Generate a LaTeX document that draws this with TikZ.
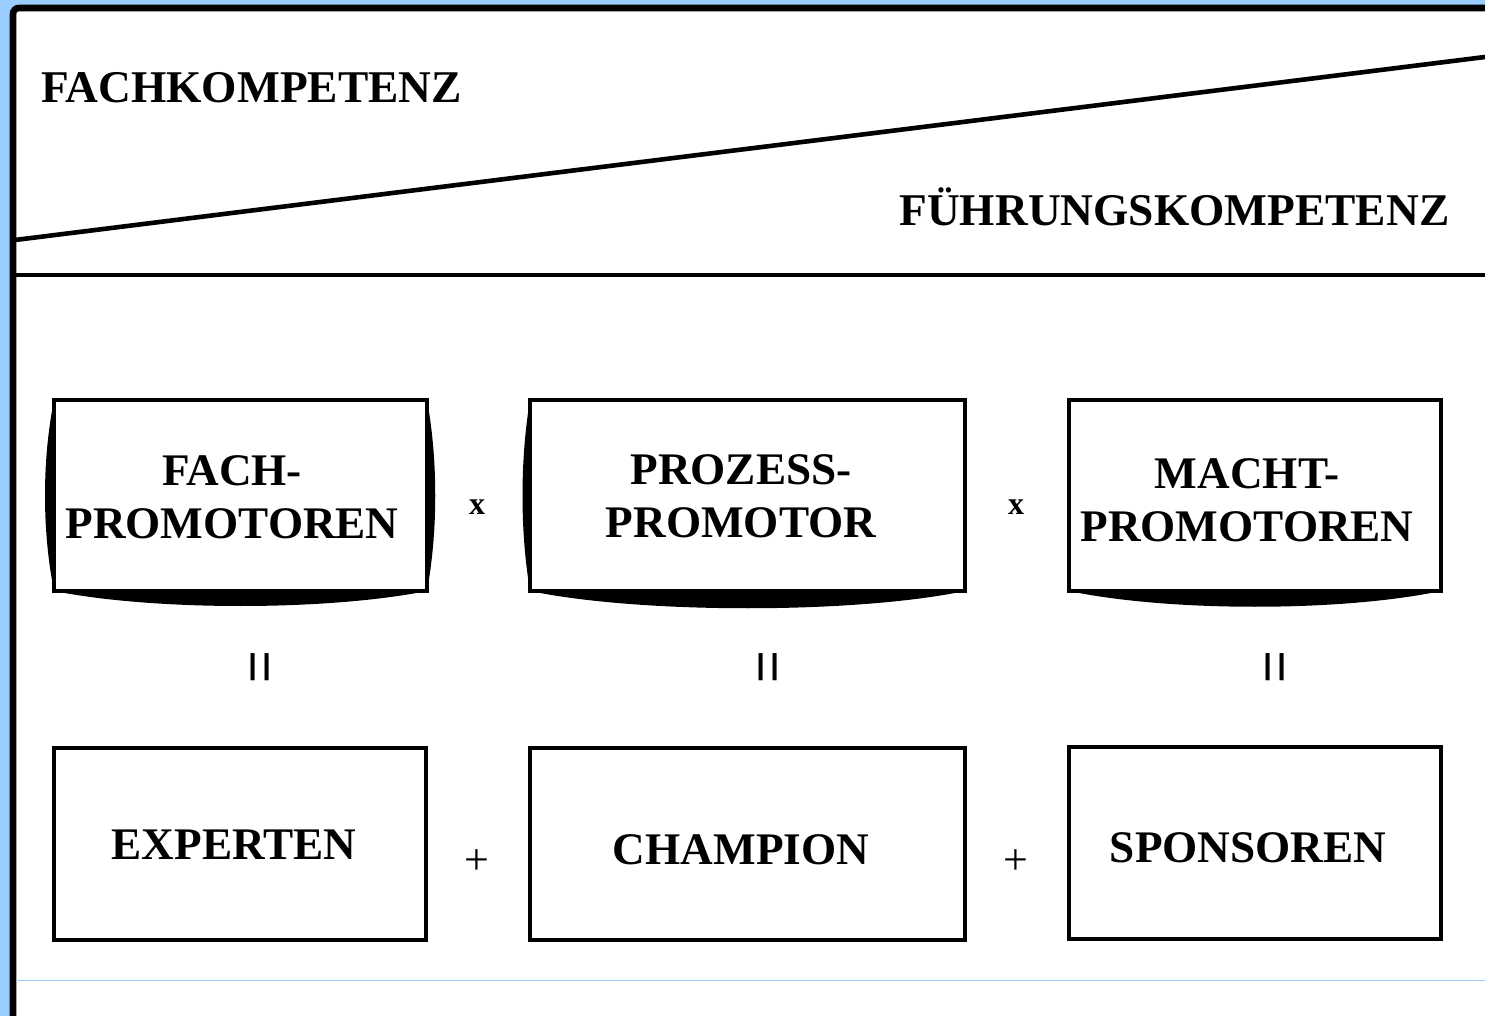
\documentclass[tikz,border=0pt]{standalone}
\usepackage{fontspec}
\setmainfont{Liberation Serif}
\setsansfont{Liberation Sans}
\definecolor{rand}{HTML}{99CCFF}
\begin{document}
\begin{tikzpicture}[x=0.5pt,y=-0.5pt,
  kasten/.style={draw,line width=2.4pt,minimum height=95.5pt,inner sep=0pt,outer sep=0pt},
  titel/.style={font=\fontsize{22.7}{26.5}\selectfont\bfseries,inner sep=0pt,anchor=base west},
  ktext/.style={font=\fontsize{22.6}{26.5}\selectfont\bfseries,align=center,inner sep=0pt},
  op/.style={font=\fontsize{16}{18}\selectfont\bfseries,inner sep=0pt},
  plus/.style={font=\fontsize{22}{24}\selectfont,inner sep=0pt},
  gleich/.style={font=\fontsize{28}{30}\selectfont\sffamily,inner sep=0pt,rotate=90}]
\useasboundingbox (0,0) rectangle (1485,1016);
% Rahmen
\fill[rand] (0,0) rectangle (1485,1016);
\fill[white] (13,8) rectangle (1485,1016);
\draw[line width=3.3pt,rounded corners=3] (13,1016)--(13,8)--(1485,8);
\draw[rand,line width=0.5pt] (16,980.5)--(1485,980.5);
% Kopf
\draw[line width=2.3pt] (15,240)--(1485,57);
\draw[line width=2.3pt] (15,275)--(1485,275);
\node[titel] (fk) at (41,103) {FACHKOMPETENZ};
\node[titel] (ffk) at (899,226) {FÜHRUNGSKOMPETENZ};
% Promotoren
\node[kasten,minimum width=186.5pt] (fach) at (240.5,495.5) {};
\node[kasten,minimum width=217.5pt] (proz) at (747.5,495.5) {};
\node[kasten,minimum width=186pt] (macht) at (1255,495.5) {};
\fill (fach.south west) .. controls +(100,20) and +(-100,20) .. (fach.south east) -- cycle;
\fill (fach.north west) .. controls +(-12,60) and +(-12,-60) .. (fach.south west) -- cycle;
\fill (fach.north east) .. controls +(11,60) and +(11,-60) .. (fach.south east) -- cycle;
\fill (proz.south west) .. controls +(110,23) and +(-110,23) .. (proz.south east) -- cycle;
\fill (proz.north west) .. controls +(-10,60) and +(-10,-60) .. (proz.south west) -- cycle;
\fill (macht.south west) .. controls +(100,21) and +(-100,21) .. (macht.south east) -- cycle;
\node[ktext] (fachT) at (232,497.5) {FACH-\\PROMOTOREN};
\node[ktext] (prozT) at (741,496.5) {PROZESS-\\PROMOTOR};
\node[ktext] (machtT) at (1247,500.5) {MACHT-\\PROMOTOREN};
\node[op] (x1) at (477,507) {x};
\node[op] (x2) at (1016,507) {x};
% gleich
\node[gleich] (g1) at (265,667) {=};
\node[gleich] (g2) at (773,667) {=};
\node[gleich] (g3) at (1280,667) {=};
% Rollen
\node[kasten,minimum width=186pt,minimum height=96pt] (exp) at (240,844) {};
\node[kasten,minimum width=217.5pt,minimum height=96pt] (champ) at (747.5,844) {};
\node[kasten,minimum width=186pt,minimum height=96pt] (spons) at (1255,843) {};
\node[ktext] (expT) at (234,845) {EXPERTEN};
\node[ktext] (champT) at (741,850) {CHAMPION};
\node[ktext] (sponsT) at (1248,848) {SPONSOREN};
\node[plus] (p1) at (477,862) {+};
\node[plus] (p2) at (1016,862) {+};
\end{tikzpicture}
\end{document}
